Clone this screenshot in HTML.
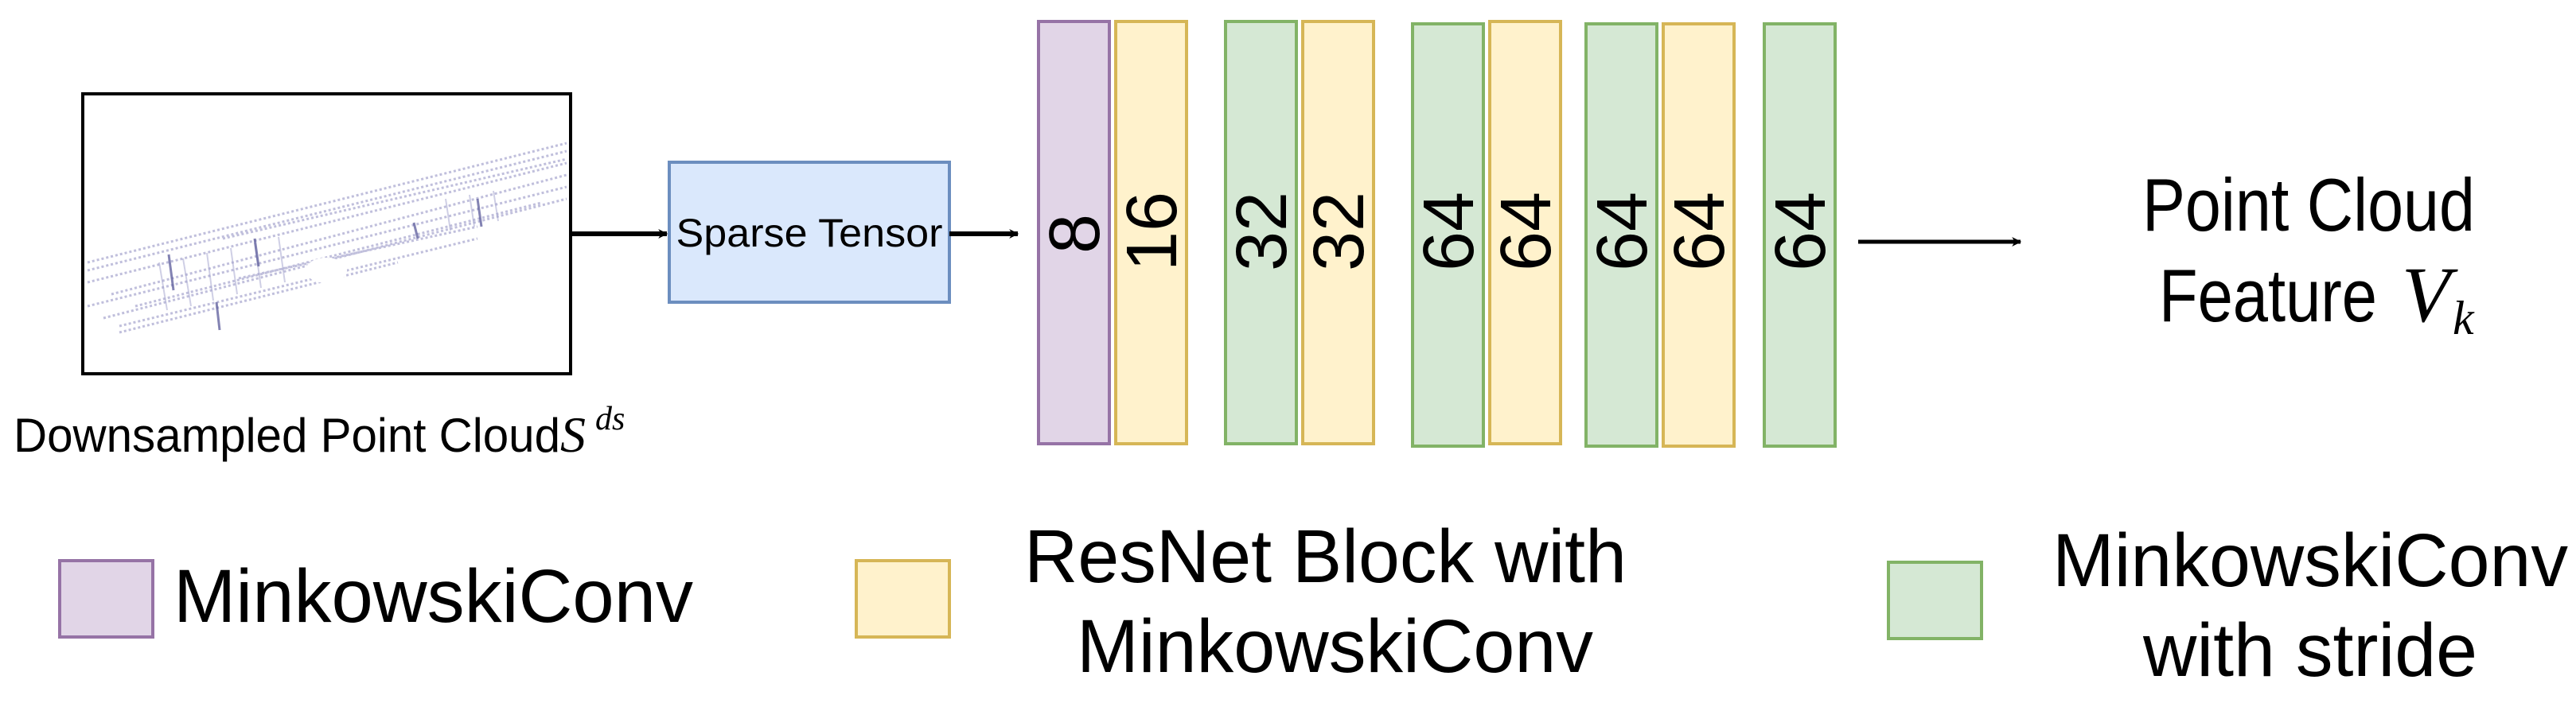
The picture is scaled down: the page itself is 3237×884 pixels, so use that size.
<!DOCTYPE html>
<html><head><meta charset="utf-8"><style>html,body{margin:0;padding:0;background:#fff}svg{display:block}</style></head>
<body>
<svg width="3237" height="884" viewBox="0 0 3237 884" xmlns="http://www.w3.org/2000/svg" font-family="Liberation Sans, Arial, sans-serif">
<defs><marker id="ah" viewBox="0 0 10 10" refX="9" refY="5" markerWidth="12" markerHeight="12" markerUnits="userSpaceOnUse" orient="auto"><path d="M0,0 L10,5 L0,10 L3,5 z" fill="#000"/></marker></defs>
<!-- point cloud image -->
<rect x="104" y="118" width="613" height="352" fill="#fff" stroke="#000" stroke-width="4"/>
<g stroke="#8e8cc0" stroke-width="3" stroke-dasharray="3 3" opacity="0.55" fill="none">
<path d="M110,330 L712,180"/><path d="M110,340 L712,190"/><path d="M280,300 L712,200"/>
<path d="M110,355 L712,205"/><path d="M140,370 L712,220"/><path d="M110,385 L712,235"/>
<path d="M130,400 L712,250"/><path d="M150,410 L600,300"/><path d="M300,350 L600,285"/>
<path d="M150,418 L500,330"/><path d="M170,385 L680,255"/>
</g>
<g stroke="#a0a0cc" stroke-width="2" opacity="0.5" fill="none">
<path d="M200,330 L210,390"/><path d="M230,325 L240,385"/><path d="M260,318 L268,378"/><path d="M290,312 L298,370"/><path d="M320,305 L328,362"/><path d="M350,298 L358,355"/><path d="M560,250 L566,290"/><path d="M590,245 L596,285"/><path d="M620,240 L626,278"/>
</g>
<g stroke="#5a5a9a" stroke-width="3" fill="none" opacity="0.75">
<path d="M212,320 L218,365"/><path d="M272,380 L276,415"/><path d="M320,300 L325,335"/><path d="M600,250 L605,285"/><path d="M520,280 L525,300"/>
</g>
<ellipse cx="410" cy="340" rx="26" ry="16" fill="#fff"/>
<!-- arrows -->
<line x1="717" y1="294" x2="838" y2="294" stroke="#000" stroke-width="6" marker-end="url(#ah)"/>
<rect x="841" y="204" width="352" height="176" fill="#dae8fc" stroke="#6c8ebf" stroke-width="4"/>
<text x="1017" y="310" font-size="50" text-anchor="middle" textLength="335" lengthAdjust="spacingAndGlyphs">Sparse Tensor</text>
<line x1="1193" y1="294" x2="1279" y2="294" stroke="#000" stroke-width="6" marker-end="url(#ah)"/>
<!-- bars -->
<g stroke-width="4">
<rect x="1305" y="27" width="89" height="531" fill="#e1d5e7" stroke="#9673a6"/>
<rect x="1402" y="27" width="89" height="531" fill="#fff2cc" stroke="#d6b656"/>
<rect x="1540" y="27" width="89" height="531" fill="#d5e8d4" stroke="#82b366"/>
<rect x="1637" y="27" width="89" height="531" fill="#fff2cc" stroke="#d6b656"/>
<rect x="1775" y="30" width="89" height="531" fill="#d5e8d4" stroke="#82b366"/>
<rect x="1872" y="27" width="89" height="531" fill="#fff2cc" stroke="#d6b656"/>
<rect x="1993" y="30" width="89" height="531" fill="#d5e8d4" stroke="#82b366"/>
<rect x="2090" y="30" width="89" height="531" fill="#fff2cc" stroke="#d6b656"/>
<rect x="2217" y="30" width="89" height="531" fill="#d5e8d4" stroke="#82b366"/>
</g>
<g font-size="90" text-anchor="middle">
<text transform="translate(1381,294) rotate(-90)">8</text>
<text transform="translate(1478,291) rotate(-90)">16</text>
<text transform="translate(1616,291) rotate(-90)">32</text>
<text transform="translate(1713,291) rotate(-90)">32</text>
<text transform="translate(1851,291) rotate(-90)">64</text>
<text transform="translate(1948,291) rotate(-90)">64</text>
<text transform="translate(2069,291) rotate(-90)">64</text>
<text transform="translate(2166,291) rotate(-90)">64</text>
<text transform="translate(2293,291) rotate(-90)">64</text>
</g>
<line x1="2335" y1="304" x2="2539" y2="304" stroke="#000" stroke-width="5" marker-end="url(#ah)"/>
<!-- output label -->
<text x="2692" y="290" font-size="94" textLength="418" lengthAdjust="spacingAndGlyphs">Point Cloud</text>
<text x="2713" y="404" font-size="94" textLength="274" lengthAdjust="spacingAndGlyphs">Feature</text>
<text x="3018" y="404" font-size="100" font-family="Liberation Serif, serif" font-style="italic">V</text>
<text x="3082" y="420" font-size="60" font-family="Liberation Serif, serif" font-style="italic">k</text>
<!-- input label -->
<text x="17" y="568" font-size="60" textLength="687" lengthAdjust="spacingAndGlyphs">Downsampled Point Cloud</text>
<text x="704" y="568" font-size="64" font-family="Liberation Serif, serif" font-style="italic">S</text>
<text x="748" y="540" font-size="42" font-family="Liberation Serif, serif" font-style="italic">ds</text>
<!-- legend -->
<rect x="75" y="705" width="117" height="96" fill="#e1d5e7" stroke="#9673a6" stroke-width="4"/>
<text x="218" y="782" font-size="95" textLength="653" lengthAdjust="spacingAndGlyphs">MinkowskiConv</text>
<rect x="1076" y="705" width="117" height="96" fill="#fff2cc" stroke="#d6b656" stroke-width="4"/>
<text x="1287" y="732" font-size="95" textLength="757" lengthAdjust="spacingAndGlyphs">ResNet Block with</text>
<text x="1353" y="845" font-size="95" textLength="649" lengthAdjust="spacingAndGlyphs">MinkowskiConv</text>
<rect x="2373" y="707" width="117" height="96" fill="#d5e8d4" stroke="#82b366" stroke-width="4"/>
<text x="2579" y="737" font-size="95" textLength="648" lengthAdjust="spacingAndGlyphs">MinkowskiConv</text>
<text x="2693" y="850" font-size="95" textLength="420" lengthAdjust="spacingAndGlyphs">with stride</text>
</svg>
</body></html>
